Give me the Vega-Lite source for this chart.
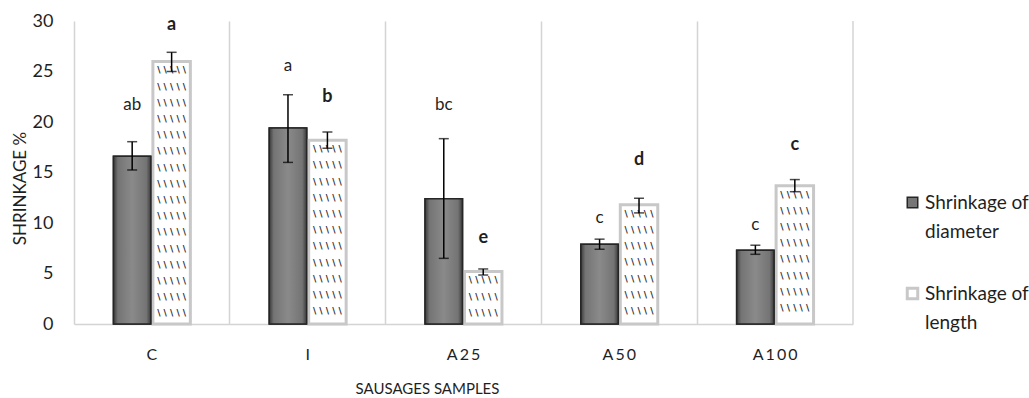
{
  "$schema": "https://vega.github.io/schema/vega-lite/v6.json",
  "width": 779,
  "height": 303,
  "autosize": "none",
  "padding": {"left": 74, "top": 21, "right": 176, "bottom": 74},
  "background": "white",
  "config": {"view": {"stroke": null}, "font": "Lato", "text": {"color": "#1f1f1f"}},
  "data": {"values": [
    {"sample": "C", "series": "Shrinkage of diameter", "value": 16.6, "lower": 15.25, "upper": 18.05, "letter": "ab", "letterY": 21.7},
    {"sample": "C", "series": "Shrinkage of length", "value": 26.0, "lower": 25.0, "upper": 26.9, "letter": "a", "letterY": 29.6},
    {"sample": "I", "series": "Shrinkage of diameter", "value": 19.4, "lower": 16.0, "upper": 22.7, "letter": "a", "letterY": 25.5},
    {"sample": "I", "series": "Shrinkage of length", "value": 18.2, "lower": 17.4, "upper": 19.0, "letter": "b", "letterY": 22.5},
    {"sample": "A25", "series": "Shrinkage of diameter", "value": 12.4, "lower": 6.5, "upper": 18.35, "letter": "bc", "letterY": 21.7},
    {"sample": "A25", "series": "Shrinkage of length", "value": 5.2, "lower": 4.85, "upper": 5.45, "letter": "e", "letterY": 8.5},
    {"sample": "A50", "series": "Shrinkage of diameter", "value": 7.9, "lower": 7.4, "upper": 8.4, "letter": "c", "letterY": 10.5},
    {"sample": "A50", "series": "Shrinkage of length", "value": 11.8, "lower": 11.0, "upper": 12.45, "letter": "d", "letterY": 16.2},
    {"sample": "A100", "series": "Shrinkage of diameter", "value": 7.3, "lower": 6.9, "upper": 7.8, "letter": "c", "letterY": 9.8},
    {"sample": "A100", "series": "Shrinkage of length", "value": 13.7, "lower": 13.1, "upper": 14.3, "letter": "c", "letterY": 17.7}
  ]},
  "encoding": {
    "x": {
      "field": "sample", "type": "nominal", "sort": ["C", "I", "A25", "A50", "A100"],
      "scale": {"paddingInner": 0, "paddingOuter": 0},
      "axis": {
        "title": "SAUSAGES SAMPLES", "titleFontSize": 15, "titleFontWeight": "normal", "titleColor": "#1f1f1f",
        "titleX": 353, "titleY": 64, "titleAlign": "center", "titleBaseline": "middle",
        "labelAngle": 0, "labelFontSize": 16, "labelColor": "#1f1f1f", "labelPadding": 22,
        "labelExpr": "join(split(datum.label, ''), '\u2009')",
        "ticks": false, "grid": true, "bandPosition": 0, "gridColor": "#d4d4d4", "gridWidth": 1.5,
        "domainColor": "#d4d4d4", "domainWidth": 1.5
      }
    }
  },
  "layer": [
    {
      "mark": {"type": "bar"},
      "encoding": {
        "xOffset": {"field": "series", "scale": {"paddingInner": 0.05, "paddingOuter": 1.05}},
        "y": {
          "field": "value", "type": "quantitative", "title": "SHRINKAGE %",
          "scale": {"domain": [0, 30], "nice": false},
          "axis": {
            "values": [0, 5, 10, 15, 20, 25, 30], "domain": false, "ticks": false, "grid": false,
            "labelFontSize": 18, "labelColor": "#1f1f1f", "labelPadding": 21,
            "titleFontSize": 17, "titleFontWeight": "normal", "titleColor": "#1f1f1f",
            "titleX": -54, "titleY": 167, "titleAlign": "center", "titleBaseline": "middle"
          }
        },
        "fill": {
          "field": "series", "type": "nominal",
          "scale": {"range": ["#767676", "transparent"]},
          "legend": {
            "title": null, "orient": "none", "legendX": 829, "legendY": 172, "padding": 0,
            "symbolType": "square", "symbolSize": 110, "symbolStrokeWidth": 2,
            "labelFontSize": 19, "labelColor": "#1f1f1f", "labelOffset": 3, "labelLimit": 200,
            "labelExpr": "datum.label == 'Shrinkage of diameter' ? ['Shrinkage of', 'diameter'] : ['Shrinkage of', 'length']",
            "rowPadding": 40,
            "encode": {"labels": {"update": {"lineHeight": {"value": 29}, "dy": {"value": 0}}}}
          }
        },
        "stroke": {
          "field": "series", "type": "nominal",
          "scale": {"range": ["#262626", "#c8c8c8"]}
        },
        "strokeWidth": {
          "field": "series", "type": "nominal",
          "scale": {"range": [1.5, 3]}, "legend": null
        }
      }
    },
    {
      "transform": [{"filter": "datum.series == 'Shrinkage of diameter'"}],
      "mark": {"type": "bar", "stroke": "#262626", "strokeWidth": 1.5,
        "fill": {"gradient": "linear", "x1": 0, "y1": 0, "x2": 1, "y2": 0,
          "stops": [
            {"offset": 0, "color": "#3a3a3a"},
            {"offset": 0.12, "color": "#747474"},
            {"offset": 0.5, "color": "#8a8a8a"},
            {"offset": 0.88, "color": "#747474"},
            {"offset": 1, "color": "#3a3a3a"}
          ]}},
      "encoding": {
        "xOffset": {"field": "series"},
        "y": {"field": "value", "type": "quantitative", "title": "SHRINKAGE %"}
      }
    },
    {
      "transform": [{"filter": "datum.series == 'Shrinkage of length'"}],
      "mark": {"type": "text",
        "text": {"expr": "slice(['\\\\ \\\\ \\\\ \\\\ \\\\', '\\\\ \\\\ \\\\ \\\\ \\\\', '\\\\ \\\\ \\\\ \\\\ \\\\', '\\\\ \\\\ \\\\ \\\\ \\\\', '\\\\ \\\\ \\\\ \\\\ \\\\', '\\\\ \\\\ \\\\ \\\\ \\\\', '\\\\ \\\\ \\\\ \\\\ \\\\', '\\\\ \\\\ \\\\ \\\\ \\\\', '\\\\ \\\\ \\\\ \\\\ \\\\', '\\\\ \\\\ \\\\ \\\\ \\\\', '\\\\ \\\\ \\\\ \\\\ \\\\', '\\\\ \\\\ \\\\ \\\\ \\\\', '\\\\ \\\\ \\\\ \\\\ \\\\', '\\\\ \\\\ \\\\ \\\\ \\\\', '\\\\ \\\\ \\\\ \\\\ \\\\', '\\\\ \\\\ \\\\ \\\\ \\\\', '\\\\ \\\\ \\\\ \\\\ \\\\', '\\\\ \\\\ \\\\ \\\\ \\\\'], 0, max(1, floor((datum.value * 10.1 - 14) / 16.2) + 1))"},
        "font": "DejaVu Sans", "fontSize": 9, "fontWeight": "bold", "lineHeight": 16.2, "baseline": "top", "align": "center", "color": "#2a2a2a", "dy": 5},
      "encoding": {
        "xOffset": {"field": "series"},
        "y": {"field": "value", "type": "quantitative", "title": "SHRINKAGE %"}
      }
    },
    {
      "mark": {"type": "rule", "color": "black", "strokeWidth": 1.5},
      "encoding": {
        "xOffset": {"field": "series"},
        "y": {"field": "lower", "type": "quantitative", "title": "SHRINKAGE %"},
        "y2": {"field": "upper"}
      }
    },
    {
      "mark": {"type": "tick", "color": "black", "size": 10, "thickness": 1.5},
      "encoding": {
        "xOffset": {"field": "series"},
        "y": {"field": "lower", "type": "quantitative", "title": "SHRINKAGE %"}
      }
    },
    {
      "mark": {"type": "tick", "color": "black", "size": 10, "thickness": 1.5},
      "encoding": {
        "xOffset": {"field": "series"},
        "y": {"field": "upper", "type": "quantitative", "title": "SHRINKAGE %"}
      }
    },
    {
      "transform": [{"filter": "datum.series == 'Shrinkage of diameter'"}],
      "mark": {"type": "text", "fontSize": 17, "baseline": "middle", "align": "center"},
      "encoding": {
        "xOffset": {"field": "series"},
        "y": {"field": "letterY", "type": "quantitative", "title": "SHRINKAGE %"},
        "text": {"field": "letter"}
      }
    },
    {
      "transform": [{"filter": "datum.series == 'Shrinkage of length'"}],
      "mark": {"type": "text", "fontSize": 18, "fontWeight": "bold", "baseline": "middle", "align": "center"},
      "encoding": {
        "xOffset": {"field": "series"},
        "y": {"field": "letterY", "type": "quantitative", "title": "SHRINKAGE %"},
        "text": {"field": "letter"}
      }
    },
    {
      "transform": [{"filter": "datum.sample == 'A100' && datum.series == 'Shrinkage of length'"}],
      "mark": {"type": "rule", "color": "#d4d4d4", "strokeWidth": 1.5},
      "encoding": {
        "x": {"field": "sample", "type": "nominal", "sort": ["C", "I", "A25", "A50", "A100"], "bandPosition": 1}
      }
    }
  ]
}
